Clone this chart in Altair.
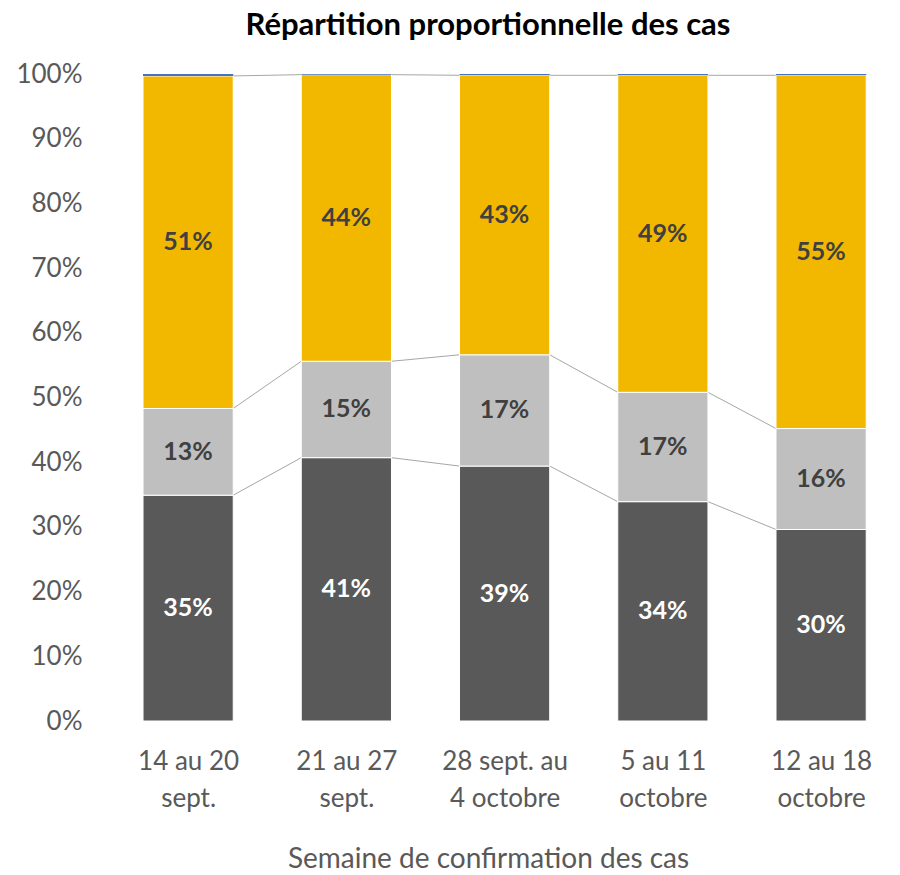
import altair as alt
import pandas as pd

categories = ["14 au 20\nsept.", "21 au 27\nsept.", "28 sept. au\n4 octobre", "5 au 11\noctobre", "12 au 18\noctobre"]
series = ["Série 1", "Série 2", "Série 3", "Série 4"]
dark = [34.9, 40.7, 39.4, 33.9, 29.6]
light = [13.4, 14.9, 17.2, 16.9, 15.6]
yellow = [51.4, 44.3, 43.2, 49.0, 54.6]
blue = [0.3, 0.1, 0.2, 0.2, 0.2]
colors = ["#595959", "#bfbfbf", "#f2b800", "#4472c4"]
label_colors = ["#ffffff", "#404040", "#404040", "#404040"]

FONT = "Lato"
HALF = 0.285

values = [dark, light, yellow, blue]
rows = []
for i, cat in enumerate(categories):
    base = 0.0
    for s, vals in enumerate(values):
        v = vals[i]
        rows.append({
            "idx": i, "series": series[s], "sidx": s,
            "x0": i - HALF, "x1": i + HALF,
            "y0": base / 100, "y1": (base + v) / 100,
            "ymid": (base + v / 2) / 100,
            "label": f"{round(v)}%" if s < 3 else "",
            "lcolor": label_colors[s],
        })
        base += v
df = pd.DataFrame(rows)

conn = []
for s in range(3):
    for i in range(len(categories) - 1):
        a = df[(df.idx == i) & (df.sidx == s)].iloc[0]
        b = df[(df.idx == i + 1) & (df.sidx == s)].iloc[0]
        conn.append({"xa": a.x1, "xb": b.x0, "ya": a.y1, "yb": b.y1})
cdf = pd.DataFrame(conn)

label_expr = "split([" + ",".join("'" + c.replace("\n", "|") + "'" for c in categories) + "][datum.value], '|')"

xscale = alt.Scale(domain=[-0.5, 4.29], nice=False, zero=False)
yscale = alt.Scale(domain=[0, 1], nice=False)
cscale = alt.Scale(domain=series, range=colors)

bars = alt.Chart(df[df.sidx < 3]).mark_rect(stroke="white", strokeWidth=1).encode(
    x=alt.X("x0:Q", scale=xscale,
            axis=alt.Axis(values=[0, 1, 2, 3, 4], labelExpr=label_expr, title="Semaine de confirmation des cas",
                          ticks=False, domain=False, grid=False, labelFontSize=26, labelColor="#595959",
                          labelFont=FONT, labelPadding=40, labelLineHeight=37, labelBaseline="middle",
                          titleFont=FONT, titleFontSize=28, titleColor="#595959", titleFontWeight="normal",
                          titlePadding=34)),
    x2="x1:Q",
    y=alt.Y("y0:Q", scale=yscale,
            axis=alt.Axis(format=".0%", values=[i / 10 for i in range(11)], title=None, ticks=False,
                          domain=False, grid=False, labelFontSize=26, labelColor="#595959",
                          labelFont=FONT, labelPadding=27)),
    y2="y1:Q",
    color=alt.Color("series:N", scale=cscale, legend=None),
)

tops = alt.Chart(df[df.sidx == 3]).mark_rect().encode(
    x=alt.X("x0:Q", scale=xscale), x2="x1:Q",
    y=alt.Y("y0:Q", scale=yscale), y2="y1:Q",
    color=alt.Color("series:N", scale=cscale, legend=None),
)

lines = alt.Chart(cdf).mark_rule(color="#a6a6a6", strokeWidth=1).encode(
    x=alt.X("xa:Q", scale=xscale), x2="xb:Q",
    y=alt.Y("ya:Q", scale=yscale), y2="yb:Q",
)

labels = alt.Chart(df[df.sidx < 3]).mark_text(font=FONT, fontSize=25, fontWeight="bold").encode(
    x=alt.X("idx:Q", scale=xscale),
    y=alt.Y("ymid:Q", scale=yscale),
    text="label:N",
    color=alt.Color("lcolor:N", scale=None),
)

chart = alt.layer(lines, bars, tops, labels).properties(
    width=758, height=647,
    title=alt.TitleParams("Répartition proportionnelle des cas", font=FONT, fontSize=31, fontWeight="bold",
                          color="#000000", anchor="middle", offset=19),
    autosize=alt.AutoSizeParams(type="none"),
    padding={"left": 101, "top": 66, "right": 10, "bottom": 154},
).configure_view(stroke=None)

chart.save("out.html", embed_options={"renderer": "svg", "actions": False})
